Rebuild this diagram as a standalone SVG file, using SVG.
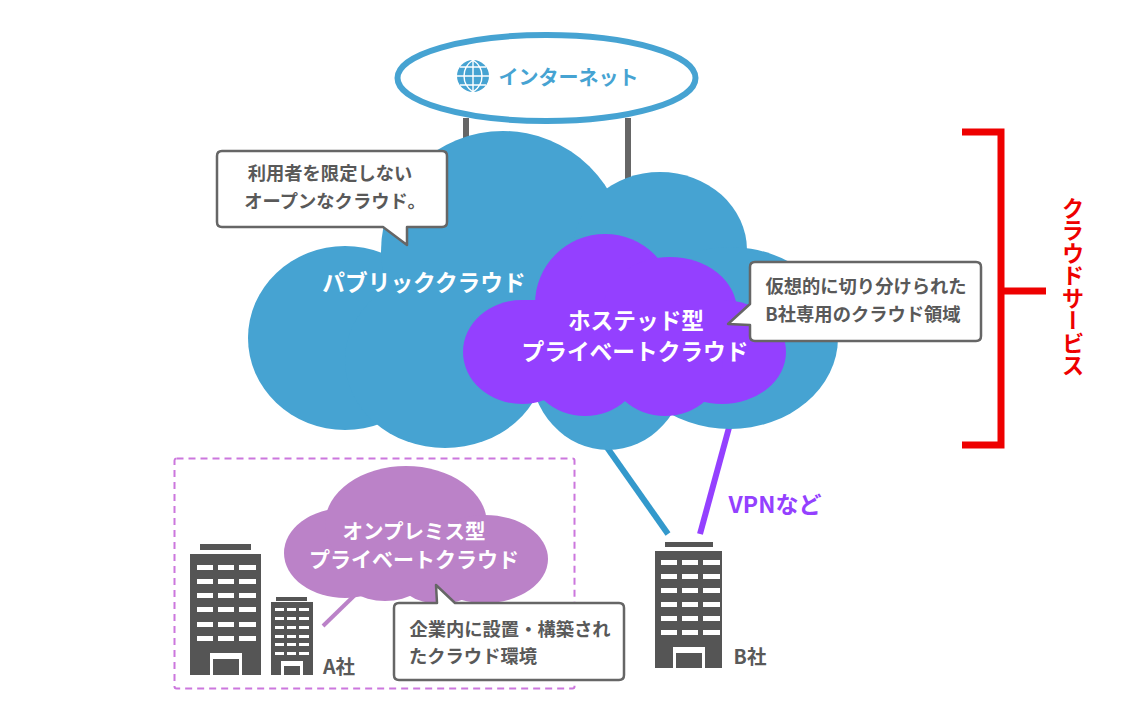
<svg xmlns="http://www.w3.org/2000/svg" width="1146" height="706" viewBox="0 0 1146 706">
<style>
text{font-family:"Noto Sans CJK JP","Noto Sans",sans-serif;font-weight:700;text-anchor:middle}
.blue{fill:#46a3d2}.purple{fill:#9440ff}.mauve{fill:#bb82c8}
.w{fill:#fff;font-size:22.700px}
.dark{fill:#595959;font-size:18.300px}
.call{fill:#fff;stroke:#666;stroke-width:2.5;stroke-linejoin:round}
.bld{fill:#555}.win{fill:#fff}
.conn{fill:none;stroke-width:6}
</style>
<defs>
<g id="bigwin">
<rect class="win" x="0" y="0" width="16" height="5"/><rect class="win" x="21" y="0" width="16" height="5"/><rect class="win" x="42" y="0" width="17" height="5"/>
</g>
<g id="smallwin">
<rect class="win" x="0" y="0" width="9" height="3"/><rect class="win" x="12" y="0" width="9" height="3"/><rect class="win" x="24" y="0" width="10" height="3"/>
</g>
</defs>
<rect width="1146" height="706" fill="#fff"/>
<g id="connectors">
<path class="conn" stroke="#666" d="M466 118V140M628 118V240"/>
<path class="conn" stroke="#3399cc" d="M606 446L668 534"/>
<path class="conn" stroke="#9440ff" d="M736 402L700 534"/>
<path fill="none" stroke="#bb82c8" stroke-width="4" d="M358 592L323 626"/>
</g>
<g id="internet">
<ellipse cx="546.500" cy="78" rx="149" ry="43" fill="#fff" stroke="#46a3d2" stroke-width="6"/>
<circle class="blue" cx="473" cy="76" r="16"/>
<path d="M473 60V92M457 76H489M460 67H486M460 85H486M473 60C461 68 461 84 473 92M473 60C485 68 485 84 473 92" fill="none" stroke="#fff" stroke-width="1.400"/>
<text x="568.500" y="85" font-size="20" style="fill:#46a3d2">インターネット</text>
</g>
<g id="public-cloud">
<g class="blue">
<ellipse cx="345" cy="338" rx="97" ry="92"/>
<ellipse cx="503" cy="251" rx="122" ry="120"/>
<ellipse cx="660" cy="250" rx="87" ry="78"/>
<ellipse cx="730" cy="338" rx="108" ry="91"/>
<ellipse cx="445" cy="360" rx="100" ry="88"/>
<ellipse cx="608" cy="365" rx="78" ry="85"/>
<rect x="400" y="240" width="300" height="130"/>
</g>
<text class="w" x="424" y="291">パブリッククラウド</text>
</g>
<g id="hosted-private-cloud">
<g class="purple">
<ellipse cx="522" cy="352" rx="59" ry="52"/>
<ellipse cx="605" cy="304" rx="70" ry="70"/>
<ellipse cx="670" cy="311" rx="67" ry="54"/>
<ellipse cx="722" cy="352" rx="64" ry="52"/>
<ellipse cx="585" cy="362" rx="58" ry="54"/>
<ellipse cx="665" cy="362" rx="58" ry="54"/>
<rect x="520" y="300" width="200" height="80"/>
</g>
<text class="w" x="636" y="329">ホステッド型</text>
<text class="w" x="635" y="360">プライベートクラウド</text>
</g>
<g id="company-a-area">
<rect x="174.500" y="458.500" width="400" height="230" rx="2" fill="none" stroke="#cc77dd" stroke-width="2" stroke-dasharray="7 5"/>
</g>
<g id="onpremise-cloud">
<g class="mauve">
<ellipse cx="345" cy="553" rx="61" ry="45"/>
<ellipse cx="406" cy="524" rx="81" ry="58"/>
<ellipse cx="485" cy="559" rx="63" ry="44"/>
<ellipse cx="385" cy="570" rx="45" ry="31"/>
<ellipse cx="440" cy="572" rx="45" ry="32"/>
<rect x="340" y="530" width="150" height="50"/>
</g>
<text x="414" y="539" font-size="20.500" style="fill:#fff">オンプレミス型</text>
<text x="414" y="567" font-size="21" style="fill:#fff">プライベートクラウド</text>
</g>
<g id="building-a">
<rect class="bld" x="200" y="544" width="51" height="6"/>
<rect class="bld" x="190" y="554" width="71" height="121"/>
<use href="#bigwin" x="197" y="565"/><use href="#bigwin" x="197" y="579"/><use href="#bigwin" x="197" y="593"/><use href="#bigwin" x="197" y="607"/><use href="#bigwin" x="197" y="622"/><use href="#bigwin" x="197" y="636"/>
<path class="win" d="M210 675V653H242V675H239V659H213V675Z"/>
<rect class="bld" x="276" y="597" width="31" height="4"/>
<rect class="bld" x="271" y="602" width="42" height="73"/>
<use href="#smallwin" x="275" y="608"/><use href="#smallwin" x="275" y="617"/><use href="#smallwin" x="275" y="626"/><use href="#smallwin" x="275" y="635"/><use href="#smallwin" x="275" y="643"/><use href="#smallwin" x="275" y="652"/>
<path class="win" d="M281 675V661H303V675H300V666H284V675Z"/>
<text x="339" y="674" font-size="19.500" style="fill:#595959">A社</text>
</g>
<g id="building-b">
<rect class="bld" x="665" y="542" width="48" height="5"/>
<rect class="bld" x="655" y="551" width="67" height="117"/>
<use href="#bigwin" x="661" y="560"/><use href="#bigwin" x="661" y="574"/><use href="#bigwin" x="661" y="588"/><use href="#bigwin" x="661" y="602"/><use href="#bigwin" x="661" y="616"/><use href="#bigwin" x="661" y="630"/>
<path class="win" d="M673 668V647H705V668H702V653H676V668Z"/>
<text x="750" y="664" font-size="19.500" style="fill:#595959">B社</text>
</g>
<text id="vpn-label" x="775" y="513" font-size="23" style="fill:#9440ff">VPNなど</text>
<g id="callout-public">
<path class="call" d="M222 151H442Q447 151 447 156V222Q447 227 442 227H407V245L383 227H222Q217 227 217 222V156Q217 151 222 151Z"/>
<text class="dark" x="330" y="180">利用者を限定しない</text>
<text class="dark" x="335" y="208">オープンなクラウド。</text>
</g>
<g id="callout-hosted">
<path class="call" d="M755 262H976Q981 262 981 267V336Q981 341 976 341H755Q750 341 750 336V325L728 324L750 304V267Q750 262 755 262Z"/>
<text class="dark" x="866" y="293">仮想的に切り分けられた</text>
<text class="dark" x="863" y="321">B社専用のクラウド領域</text>
</g>
<g id="callout-onpremise">
<path class="call" d="M399 603H437L436 585L455 603H619Q624 603 624 608V675Q624 680 619 680H399Q394 680 394 675V608Q394 603 399 603Z"/>
<text class="dark" x="510" y="636">企業内に設置・構築され</text>
<text class="dark" x="473" y="663">たクラウド環境</text>
</g>
<g id="cloud-service-bracket">
<path d="M962 132H1001V445H962M1001 291H1046" fill="none" stroke="#ee0000" stroke-width="7"/>
<text x="1073" y="197" font-size="22.500" style="fill:#ee0000;writing-mode:vertical-rl;text-anchor:start">クラウドサービス</text>
</g>
</svg>
